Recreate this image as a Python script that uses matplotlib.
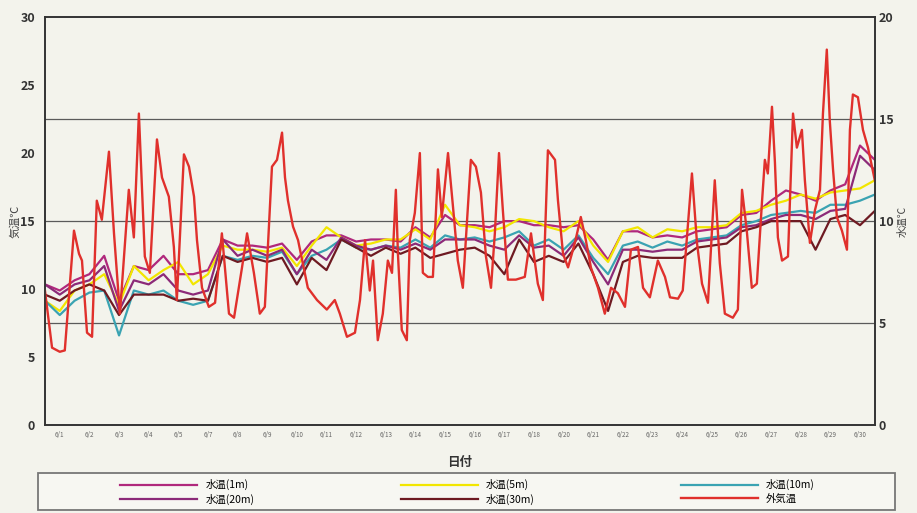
import numpy as np
import matplotlib
matplotlib.use("Agg")
import matplotlib.pyplot as plt
from matplotlib.patches import Rectangle

plt.rcParams['font.family'] = ['Noto Sans CJK JP', 'DejaVu Sans']

# tick labels as printed under the axis
day_labels = ["6/1", "6/2", "6/3", "6/4", "6/5", "6/7", "6/8", "6/9", "6/10", "6/11",
              "6/12", "6/13", "6/14", "6/15", "6/16", "6/17", "6/18", "6/20", "6/21",
              "6/22", "6/23", "6/24", "6/25", "6/26", "6/27", "6/28", "6/29", "6/30"]

# air temperature (left axis), time in days from start
air_t = [0.0, 0.24, 0.5, 0.67, 0.98, 1.15, 1.25, 1.42, 1.59, 1.75, 1.92, 2.16, 2.33, 2.53,
         2.83, 3.0, 3.17, 3.37, 3.54, 3.78, 3.95, 4.18, 4.35, 4.45, 4.69, 4.86, 5.03, 5.13,
         5.30, 5.53, 5.74, 5.97, 6.21, 6.38, 6.65, 6.82, 7.05, 7.25, 7.42, 7.66, 7.83, 8.0,
         8.10, 8.20, 8.37, 8.54, 8.87, 9.18, 9.51, 9.78, 9.95, 10.19, 10.46, 10.63, 10.80,
         10.96, 11.07, 11.23, 11.40, 11.57, 11.71, 11.84, 11.91, 12.04, 12.21, 12.31, 12.48,
         12.65, 12.75, 12.92, 13.09, 13.26, 13.39, 13.60, 13.77, 13.93, 14.10, 14.37, 14.54,
         14.71, 14.88, 15.05, 15.18, 15.32, 15.45, 15.62, 15.89, 16.19, 16.40, 16.63, 16.80,
         16.97, 17.21, 17.31, 17.48, 17.65, 17.88, 18.08, 18.25, 18.42, 18.66, 18.89, 19.10,
         19.33, 19.57, 19.77, 20.01, 20.18, 20.41, 20.68, 20.92, 21.09, 21.36, 21.52, 21.83,
         22.0, 22.17, 22.37, 22.60, 22.77, 22.94, 23.21, 23.38, 23.52, 23.68, 23.85, 24.02,
         24.19, 24.29, 24.39, 24.53, 24.63, 24.73, 24.87, 25.07, 25.24, 25.37, 25.54, 25.64,
         25.81, 25.98, 26.15, 26.25, 26.38, 26.48, 26.59, 26.72, 26.89, 27.06, 27.16, 27.26,
         27.43, 27.60, 27.77, 28.0]
air_temp = [9.9, 5.7, 5.4, 5.5, 14.3, 12.6, 12.1, 6.8, 6.5, 16.5, 15.1, 20.1, 14.1, 8.2,
            17.3, 13.8, 22.9, 12.4, 11.2, 21.0, 18.2, 16.8, 13.1, 9.2, 19.9, 19.0, 16.8, 13.6,
            10.1, 8.7, 9.0, 14.1, 8.2, 7.9, 11.6, 14.1, 11.2, 8.2, 8.7, 19.0, 19.5, 21.5,
            18.2, 16.5, 14.6, 13.6, 10.1, 9.2, 8.5, 9.2, 8.2, 6.5, 6.8, 9.2, 13.6,
            9.9, 12.1, 6.25, 8.2, 12.1, 11.2, 17.3, 12.6, 7.0, 6.25, 13.6, 15.6,
            20.0, 11.2, 10.9, 10.9, 18.8, 15.3, 20.0, 16.0, 12.1, 10.1, 19.5, 19.0,
            17.1, 12.4, 10.1, 14.1, 20.0, 15.8, 10.7, 10.7, 10.9, 14.1, 10.4, 9.2,
            20.2, 19.5, 16.5, 12.6, 11.6, 13.4, 15.3, 13.6, 11.6, 10.1, 8.2, 10.1,
            9.7, 8.7, 12.9, 13.1, 10.1, 9.4, 12.1, 10.9, 9.4, 9.3, 9.9, 18.5,
            13.4, 10.4, 9.0, 18.0, 11.9, 8.2, 7.9, 8.5, 17.3, 14.3, 10.1, 10.4,
            16.3, 19.5, 18.5, 23.4, 19.3, 13.8, 12.1, 12.4, 22.9, 20.4, 21.7, 18.0,
            13.4, 15.8, 17.3, 22.9, 27.6, 22.4, 18.8, 15.3, 14.3, 12.9, 21.7, 24.3,
            24.1, 21.7, 20.4, 18.0]

# water temperatures (right axis), every half day
water_t = [i * 0.5 for i in range(57)]
w1m = [6.9, 6.6, 7.1, 7.4, 8.3, 6.1, 7.8, 7.6, 8.3, 7.4, 7.4, 7.6, 9.1, 8.8, 8.8, 8.7, 8.9,
       8.1, 9.0, 9.3, 9.3, 9.0, 9.1, 9.1, 9.0, 9.7, 9.2, 10.3, 9.8, 9.8, 9.7, 10.0, 10.0,
       9.8, 9.8, 9.7, 9.8, 9.1, 8.1, 9.5, 9.5, 9.2, 9.3, 9.2, 9.5, 9.6, 9.7, 10.3, 10.4,
       11.0, 11.5, 11.3, 11.0, 11.5, 11.8, 13.7, 13.0]
w5m = [6.1, 5.6, 6.6, 6.9, 7.4, 5.9, 7.8, 7.1, 7.6, 8.0, 6.9, 7.4, 8.8, 8.6, 8.6, 8.5, 8.7,
       7.8, 8.8, 9.7, 9.2, 8.8, 8.9, 9.1, 9.1, 9.6, 9.1, 10.8, 9.8, 9.7, 9.5, 9.7, 10.1,
       10.0, 9.7, 9.5, 10.0, 8.8, 8.0, 9.5, 9.7, 9.2, 9.6, 9.5, 9.7, 9.7, 9.8, 10.4, 10.5,
       10.8, 11.0, 11.3, 11.1, 11.4, 11.5, 11.6, 12.0]
w10m = [6.1, 5.4, 6.1, 6.5, 6.6, 4.4, 6.6, 6.4, 6.6, 6.1, 5.9, 6.1, 8.3, 8.1, 8.3, 8.2, 8.5,
        7.4, 8.3, 8.6, 9.1, 8.7, 8.6, 8.8, 8.7, 9.1, 8.7, 9.3, 9.1, 9.2, 9.0, 9.2, 9.5,
        8.8, 9.1, 8.6, 9.3, 8.2, 7.4, 8.8, 9.0, 8.7, 9.0, 8.8, 9.1, 9.2, 9.3, 9.8, 10.0,
        10.3, 10.4, 10.5, 10.4, 10.8, 10.8, 11.0, 11.3]
w20m = [6.9, 6.4, 6.9, 7.1, 7.8, 5.6, 7.1, 6.9, 7.4, 6.6, 6.4, 6.6, 9.1, 8.3, 8.6, 8.3, 8.6,
        7.4, 8.6, 8.1, 9.2, 8.8, 8.6, 8.8, 8.6, 8.9, 8.6, 9.1, 9.1, 9.1, 8.8, 8.6, 9.3,
        8.7, 8.8, 8.3, 9.2, 8.0, 6.9, 8.6, 8.6, 8.5, 8.6, 8.6, 9.0, 9.1, 9.2, 9.7, 9.8,
        10.1, 10.3, 10.3, 10.1, 10.5, 10.6, 13.2, 12.5]
w30m = [6.4, 6.1, 6.6, 6.9, 6.6, 5.4, 6.4, 6.4, 6.4, 6.1, 6.2, 6.1, 8.3, 8.0, 8.2, 8.0, 8.2,
        6.9, 8.2, 7.6, 9.1, 8.7, 8.3, 8.7, 8.4, 8.7, 8.2, 8.4, 8.6, 8.7, 8.3, 7.4, 9.1,
        8.0, 8.3, 8.0, 8.9, 7.4, 5.6, 8.0, 8.3, 8.2, 8.2, 8.2, 8.7, 8.8, 8.9, 9.5, 9.7,
        10.0, 10.0, 10.0, 8.6, 10.1, 10.3, 9.8, 10.5]

water_series = [("水温(1m)", w1m, "#b0287c"),
                ("水温(5m)", w5m, "#f2e600"),
                ("水温(10m)", w10m, "#3aa3b2"),
                ("水温(20m)", w20m, "#8c2a78"),
                ("水温(30m)", w30m, "#6e1a22")]

fig = plt.figure(figsize=(9.17, 5.13), dpi=100)
fig.patch.set_facecolor("#f3f3ec")
ax = fig.add_axes([0.049, 0.171, 0.905, 0.796])
ax2 = ax.twinx()

# air temp on top of water lines
ax.set_zorder(ax2.get_zorder() + 1)
ax.patch.set_visible(False)
ax2.set_facecolor("#a9a9a6")

handles = {}
for name, vals, col in water_series:
    h, = ax2.plot(water_t, vals, color=col, lw=1.6)
    handles[name] = h
h, = ax.plot(air_t, air_temp, color="#e0302c", lw=1.7)
handles["外気温"] = h

ax.set_xlim(0, 28)
ax.set_ylim(0, 30)
ax2.set_ylim(0, 20)
ax.set_yticks(range(0, 31, 5))
ax2.set_yticks(range(0, 21, 5))
for y in (5, 10, 15):
    ax2.axhline(y, color="#5a5a5a", lw=0.9, zorder=0.5)

ax.set_xticks(np.arange(28) + 0.5)
ax.set_xticklabels(day_labels, fontsize=4.5, color="#666666")
ax.tick_params(axis="x", length=0, pad=4)
ax.tick_params(axis="y", length=0, labelsize=9, pad=7)
ax2.tick_params(axis="y", length=0, labelsize=9, pad=3)
for lab in ax.get_yticklabels() + ax2.get_yticklabels():
    lab.set_fontweight("bold")
    lab.set_color("#333333")

for a in (ax, ax2):
    for s in a.spines.values():
        s.set_color("#333333")
        s.set_linewidth(1.2)

ax.set_ylabel("気温℃", fontsize=8, color="#444444", labelpad=0)
ax2.set_ylabel("水温℃", fontsize=7.5, color="#444444", labelpad=3)
ax.set_xlabel("日付", fontsize=9, fontweight="bold", color="#333333", labelpad=12)

# legend frame drawn separately, entries centred inside it
fig.patches.append(Rectangle((0.041, 0.005), 0.935, 0.072, transform=fig.transFigure,
                             facecolor="#f7f7f2", edgecolor="#777777", lw=1.3))
order = ["水温(1m)", "水温(20m)", "水温(5m)", "水温(30m)", "水温(10m)", "外気温"]
leg = fig.legend([handles[k] for k in order], order, ncol=3, loc="center",
                 bbox_to_anchor=(0.51, 0.041), fontsize=7.5, handlelength=7.4,
                 frameon=False, labelspacing=0.3, handletextpad=0.8, columnspacing=14)

fig.savefig("out.png", dpi=100, facecolor=fig.get_facecolor())
